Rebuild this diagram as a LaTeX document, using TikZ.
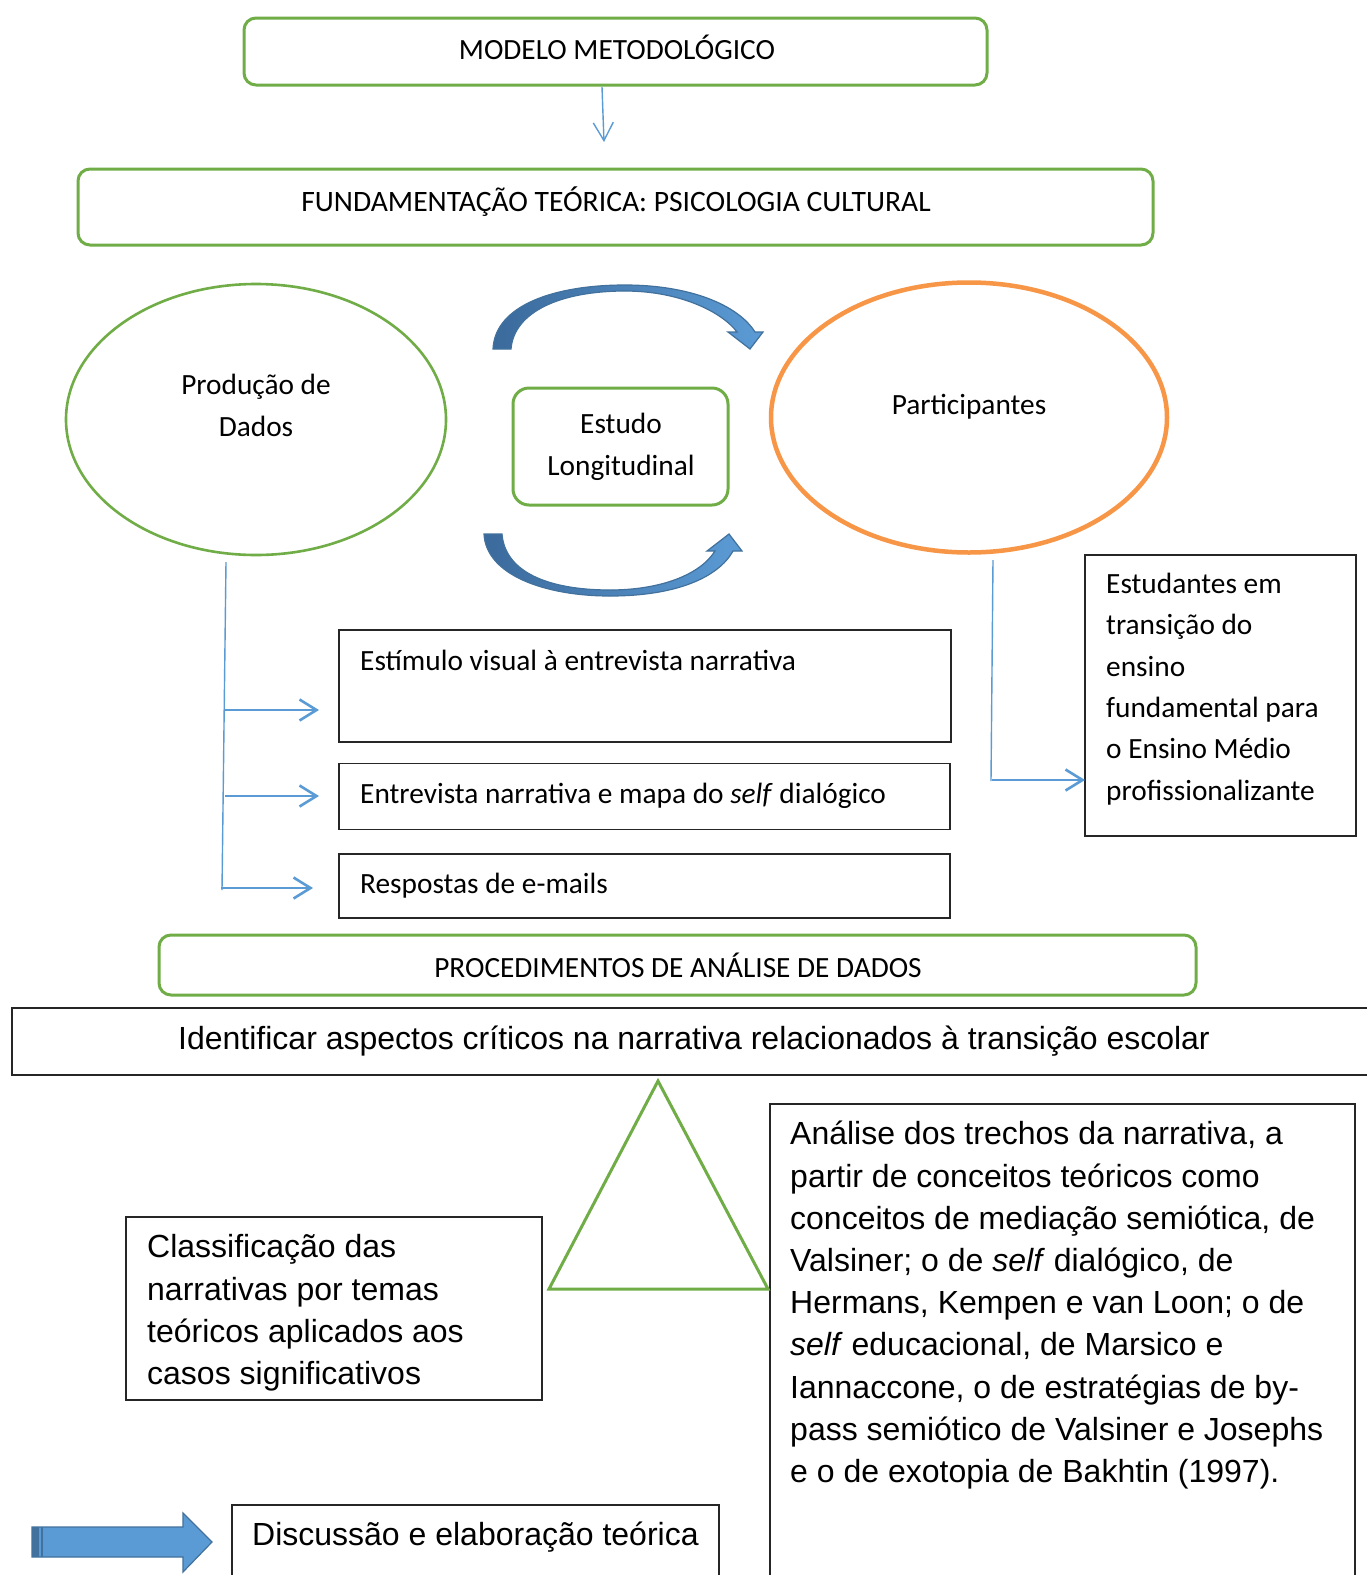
\documentclass[tikz,border=0pt]{standalone}
\usepackage{fontspec}
\setmainfont{Carlito}
\newfontfamily\arialfont{Liberation Sans}
\usetikzlibrary{arrows.meta,shapes.geometric}
\definecolor{boxgreen}{HTML}{70AD47}
\definecolor{ringorange}{HTML}{F79646}
\definecolor{linkblue}{HTML}{5B9BD5}
\definecolor{edgeblue}{HTML}{41719C}
\definecolor{deepblue}{HTML}{3B6A9C}
\definecolor{framegray}{HTML}{262626}

\begin{document}
\begin{tikzpicture}[x=1pt,y=-1pt,
  cal/.style={font=\fontsize{29.33}{41.3}\selectfont, inner sep=0pt},
  ari/.style={font=\arialfont\fontsize{32}{42.2}\selectfont, inner sep=0pt},
  greenbox/.style={draw=boxgreen, line width=3pt, rounded corners=12pt, inner sep=0pt},
  framebox/.style={draw=framegray, line width=1.8pt, inner sep=0pt},
  ring/.style={ellipse, inner sep=0pt},
  thinlink/.style={draw=linkblue, line width=1.4pt},
  barb/.style={draw=linkblue, line width=2.6pt, -{Straight Barb[length=17pt,width=21pt]}},
  cyclearrow/.style={left color=deepblue, right color=linkblue, draw=edgeblue, line width=1.2pt},
]
\clip (0,0) rectangle (1367,1575);
\fill[white] (0,0) rectangle (1367,1575);

% ---- frames ----
\node[greenbox, minimum width=743pt, minimum height=67pt] (modelo) at (615.5,51.5) {};
\node[greenbox, minimum width=1075pt, minimum height=76pt] (fund) at (615.5,207) {};
\node[ring, draw=boxgreen, line width=2.6pt, minimum width=380pt, minimum height=271pt] (prod) at (256,419.5) {};
\node[ring, draw=ringorange, line width=4.5pt, minimum width=396pt, minimum height=270pt] (part) at (969,417.5) {};
\node[greenbox, rounded corners=16pt, minimum width=215pt, minimum height=117pt] (estudo) at (620.5,446.5) {};
\node[framebox, minimum width=612pt, minimum height=112pt] (estim) at (645,686) {};
\node[framebox, minimum width=611pt, minimum height=66pt] (entrev) at (644.5,796.5) {};
\node[framebox, minimum width=611pt, minimum height=64pt] (resp) at (644.5,886) {};
\node[framebox, minimum width=271pt, minimum height=281pt] (estud) at (1220.5,695.5) {};
\node[greenbox, minimum width=1037pt, minimum height=60pt] (proc) at (677.5,965) {};
\node[framebox, minimum width=1368pt, minimum height=67pt] (ident) at (696,1041.5) {};
\node[framebox, minimum width=416pt, minimum height=183pt] (classif) at (334,1308.5) {};
\node[framebox, minimum width=585pt, minimum height=496pt] (analise) at (1062.5,1352) {};
\node[framebox, minimum width=487pt, minimum height=95pt] (discuss) at (475.5,1552.5) {};

% ---- triangle ----
\coordinate (tri-a) at (658,1081);
\coordinate (tri-b) at (549,1289);
\coordinate (tri-c) at (768,1289);
\draw[boxgreen, line width=3pt, line join=miter] (tri-a) -- (tri-b) -- (tri-c) -- cycle;

% ---- texts (multi-line nodes are anchored at their last baseline) ----
\node[cal, anchor=base] (modelo-t) at (617,59.5) {MODELO METODOLÓGICO};
\node[cal, anchor=base] (fund-t) at (616,211.5) {\fontsize{29.6}{41.3}\selectfont FUNDAMENTAÇÃO TEÓRICA: PSICOLOGIA CULTURAL};
\node[cal, anchor=base, align=center] (prod-t) at (256,436) {Produção de\\Dados};
\node[cal, anchor=base] (part-t) at (969,414) {Participantes};
\node[cal, anchor=base, align=center] (estudo-t) at (621,475) {Estudo\\Longitudinal};
\node[cal, anchor=base west] (estim-t) at (360,670) {Estímulo visual à entrevista narrativa};
\node[cal, anchor=base west] (entrev-t) at (360,803) {Entrevista narrativa e mapa do \textit{self} dialógico};
\node[cal, anchor=base west] (resp-t) at (360,893) {Respostas de e-mails};
\node[cal, anchor=base west, align=left] (estud-t) at (1106,800)
  {Estudantes em\\transição do\\ensino\\fundamental para\\o Ensino Médio\\profissionalizante};
\node[cal, anchor=base] (proc-t) at (678,977) {PROCEDIMENTOS DE ANÁLISE DE DADOS};
\node[ari, anchor=base] (ident-t) at (694,1049) {Identificar aspectos críticos na narrativa relacionados à transição escolar};
\node[ari, anchor=base west, align=left] (classif-t) at (147,1384.5)
  {Classificação das\\narrativas por temas\\teóricos aplicados aos\\casos significativos};
\node[ari, anchor=base west, align=left] (analise-t) at (790,1482.5)
  {Análise dos trechos da narrativa, a\\partir de conceitos teóricos como\\conceitos de mediação semiótica, de\\Valsiner; o de \textit{self} dialógico, de\\Hermans, Kempen e van Loon; o de\\\textit{self} educacional, de Marsico e\\Iannaccone, o de estratégias de by-\\pass semiótico de Valsiner e Josephs\\e o de exotopia de Bakhtin (1997).};
\node[ari, anchor=base west] (discuss-t) at (252,1545) {Discussão e elaboração teórica};

% ---- connectors ----
\coordinate (m-out) at (602,87);
\coordinate (f-in) at (604,142);
\draw[thinlink, -{Straight Barb[length=18pt,width=20pt]}] (m-out) -- (f-in);

\coordinate (p-top) at (226,562);
\coordinate (p-bot) at (222,890);
\draw[thinlink] (p-top) -- (p-bot);
\coordinate (p1) at (225,710);
\coordinate (p2) at (225,796);
\coordinate (p3) at (221,888);
\coordinate (e1) at (319,710);
\coordinate (e2) at (319,796);
\coordinate (e3) at (313,888);
\draw[barb] (p1) -- (e1);
\draw[barb] (p2) -- (e2);
\draw[barb] (p3) -- (e3);

\coordinate (q-top) at (993,560);
\coordinate (q-bot) at (991,781);
\draw[thinlink] (q-top) -- (q-bot);
\coordinate (q-mid) at (992,780);
\coordinate (q-in) at (1085,780);
\draw[barb] (q-mid) -- (q-in);

% ---- curved cycle arrows around the central box ----
\shadedraw[cyclearrow]
  (493,349) .. controls (495,305) and (555,285) .. (625,285)
  .. controls (690,285) and (738,305) .. (755,332)
  -- (763,332) -- (750,349) -- (728,332) -- (737,332)
  .. controls (722,312) and (680,291) .. (625,291)
  .. controls (560,291) and (514,312) .. (511,349) -- cycle;
\shadedraw[cyclearrow]
  (484,534) .. controls (486,575) and (545,596) .. (610,596)
  .. controls (675,596) and (718,578) .. (733,551)
  -- (742,551) -- (729,534) -- (707,551) -- (715,551)
  .. controls (700,575) and (660,590) .. (610,590)
  .. controls (548,590) and (505,572) .. (502,534) -- cycle;

% ---- block arrow ----
\filldraw[fill=linkblue, draw=edgeblue, line width=1.2pt]
  (32,1527) -- (183,1527) -- (183,1513) -- (212,1542) -- (183,1572) -- (183,1557) -- (32,1557) -- cycle;
\fill[edgeblue] (32,1527) rectangle (39,1557);
\draw[edgeblue, line width=1.2pt] (42,1527) -- (42,1557);
\end{tikzpicture}
\end{document}
